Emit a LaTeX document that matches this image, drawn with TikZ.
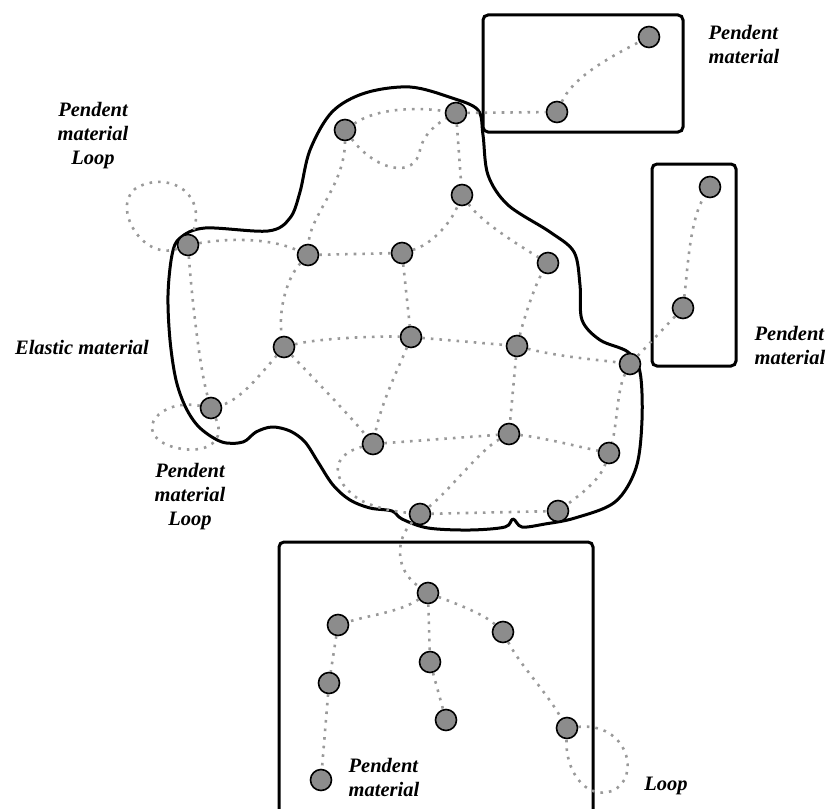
\documentclass[tikz,border=0pt]{standalone}
\usepackage{fontspec}
\setmainfont{Liberation Serif}
\usepackage{tikz}
\definecolor{bead}{HTML}{8C8C8C}
\definecolor{chain}{HTML}{9A9A9A}
\tikzset{
    particle/.style={
        circle,
        fill=bead,
        draw=black,
        line width=1.6pt,
        minimum size=21pt,
        inner sep=0pt
    },
    link/.style={
        color=chain,
        line width=2.6pt,
        dash pattern=on 2.6pt off 6pt
    },
    outline/.style={
        line width=3pt,
        line join=round
    },
    region/.style={
        line width=3pt,
        rounded corners=5pt
    },
    caption/.style={
        font=\fontsize{20.5}{24}\selectfont\bfseries\itshape,
        inner sep=0pt
    }
}

\begin{document}
\begin{tikzpicture}[x=1pt,y=-1pt]

    \clip (0,0) rectangle (829,808);

    % Elastic outline
    \draw[outline]
        plot[smooth cycle, tension=0.55] coordinates {
        (180,238) (205,228) (268,231) (290,218) (300,192) (310,150)
        (332,112) (365,93) (410,87) (452,98) (478,110) (483,135)
        (488,175) (508,205) (550,232) (574,252) (580,285) (582,320)
        (600,340) (628,352) (640,372) (642,420) (636,468) (615,502)
        (575,518) (545,524) (522,527) (513,519) (505,527) (470,530)
        (428,528) (402,519) (392,511) (370,508) (350,500) (333,485)
        (318,462) (305,442) (290,431) (272,427) (256,432) (243,442)
        (222,442) (200,428) (186,408) (176,380) (170,340) (168,295)
        (172,255)};

    % Boxes
    \draw[region] (483,15) rectangle (683,132);
    \draw[region] (652,164) rectangle (736,366);
    \draw[region] (279,542) rectangle (593,830);

    % Particles
    \node[particle] (a1) at (649,37) {};
    \node[particle] (a2) at (557,112) {};
    \node[particle] (b1) at (710,187) {};
    \node[particle] (b2) at (683,308) {};

    \node[particle] (n1) at (456,113) {};
    \node[particle] (n2) at (345,130) {};
    \node[particle] (n3) at (462,195) {};
    \node[particle] (n4) at (188,245) {};
    \node[particle] (n5) at (308,255) {};
    \node[particle] (n6) at (402,253) {};
    \node[particle] (n7) at (548,263) {};
    \node[particle] (n8) at (284,347) {};
    \node[particle] (n9) at (411,337) {};
    \node[particle] (n10) at (517,346) {};
    \node[particle] (n11) at (630,364) {};
    \node[particle] (n12) at (211,408) {};
    \node[particle] (n13) at (373,444) {};
    \node[particle] (n14) at (509,434) {};
    \node[particle] (n15) at (609,453) {};
    \node[particle] (n16) at (420,514) {};
    \node[particle] (n17) at (558,511) {};

    \node[particle] (c1) at (428,593) {};
    \node[particle] (c2) at (338,625) {};
    \node[particle] (c3) at (503,632) {};
    \node[particle] (c4) at (430,662) {};
    \node[particle] (c5) at (329,683) {};
    \node[particle] (c6) at (446,720) {};
    \node[particle] (c7) at (567,728) {};
    \node[particle] (c8) at (321,780) {};

    % Top pendent chain
    \draw[link] (n1) -- (a2);
    \draw[link] (a2) .. controls (572,80) and (600,62) .. (a1);

    % Right pendent chain
    \draw[link] (n11) -- (b2);
    \draw[link] (b2) .. controls (688,265) and (690,220) .. (b1);

    % Network
    \draw[link] (n2) .. controls (380,106) and (425,108) .. (n1);
    \draw[link] (n2) .. controls (375,170) and (415,180) .. (420,150)
        .. controls (424,132) and (440,122) .. (n1);
    \draw[link] (n1) -- (n3);
    \draw[link] (n2) .. controls (345,185) and (310,215) .. (n5);
    \draw[link] (n5) .. controls (285,280) and (278,315) .. (n8);
    \draw[link] (n4) .. controls (230,238) and (270,238) .. (n5);
    \draw[link] (n4) .. controls (140,262) and (108,200) .. (140,186)
        .. controls (172,172) and (208,195) .. (n4);
    \draw[link] (n5) -- (n6);
    \draw[link] (n6) .. controls (430,245) and (450,225) .. (n3);
    \draw[link] (n3) .. controls (480,220) and (510,240) .. (n7);
    \draw[link] (n6) -- (n9);
    \draw[link] (n4) .. controls (192,300) and (200,370) .. (n12);
    \draw[link] (n8) .. controls (320,338) and (380,336) .. (n9);
    \draw[link] (n8) .. controls (260,375) and (240,400) .. (n12);
    \draw[link] (n8) .. controls (310,375) and (345,410) .. (n13);
    \draw[link] (n9) .. controls (400,365) and (382,400) .. (n13);
    \draw[link] (n9) -- (n10);
    \draw[link] (n10) .. controls (525,315) and (535,285) .. (n7);
    \draw[link] (n10) .. controls (560,357) and (600,360) .. (n11);
    \draw[link] (n11) .. controls (617,390) and (617,425) .. (n15);
    \draw[link] (n10) -- (n14);
    \draw[link] (n14) .. controls (540,437) and (580,447) .. (n15);
    \draw[link] (n15) .. controls (600,480) and (580,495) .. (n17);
    \draw[link] (n14) .. controls (480,450) and (450,490) .. (n16);
    \draw[link] (n13) -- (n14);
    \draw[link] (n16) -- (n17);
    \draw[link] (n13) .. controls (330,455) and (330,480) .. (360,500)
        .. controls (380,510) and (400,512) .. (n16);
    \draw[link] (n12) .. controls (160,398) and (132,432) .. (170,446)
        .. controls (200,456) and (228,445) .. (n12);

    % Bottom pendent chains
    \draw[link] (n16) .. controls (395,540) and (395,570) .. (c1);
    \draw[link] (c1) .. controls (400,612) and (370,615) .. (c2);
    \draw[link] (c1) .. controls (460,605) and (485,615) .. (c3);
    \draw[link] (c1) -- (c4);
    \draw[link] (c4) -- (c6);
    \draw[link] (c2) -- (c5);
    \draw[link] (c5) -- (c8);
    \draw[link] (c3) .. controls (520,665) and (545,690) .. (c7);
    \draw[link] (c7) .. controls (628,722) and (642,778) .. (612,791)
        .. controls (585,800) and (565,770) .. (c7);

    % Labels
    \node[caption, align=left] (tagtop) at (744,44) {Pendent\\material};
    \node[caption, align=center] (tagloopa) at (93,136) {Pendent\\material\\Loop};
    \node[caption] (tagelastic) at (82,347) {Elastic material};
    \node[caption, align=left] (tagright) at (790,345) {Pendent\\material};
    \node[caption, align=center] (tagloopb) at (190,497) {Pendent\\material\\Loop};
    \node[caption, align=left] (tagbottom) at (384,777) {Pendent\\material};
    \node[caption] (tagloop) at (666,786) {Loop};

\end{tikzpicture}
\end{document}
